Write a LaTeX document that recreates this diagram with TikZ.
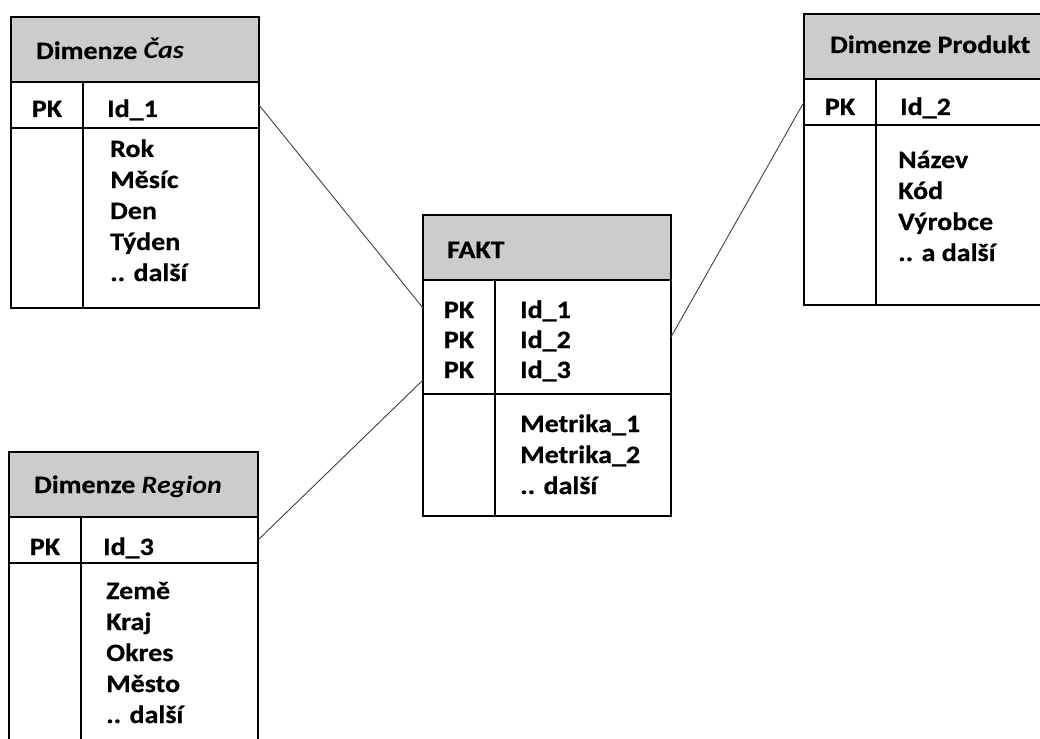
\documentclass[tikz,border=0pt]{standalone}
\usepackage{fontspec}
\setmainfont{Carlito}[FakeStretch=1.12, BoldFeatures={FakeBold=0.6}]
\usetikzlibrary{calc}

\begin{document}
\begin{tikzpicture}[
    x=1pt, y=-1pt,
    cell/.style={draw, line width=1.6pt, anchor=north west, inner sep=0pt, outer sep=0pt, minimum height=46pt},
    head/.style={cell, fill=black!20, minimum height=65pt},
    txt/.style={inner sep=0pt, font=\fontsize{25}{31}\selectfont\bfseries, anchor=base west},
    link/.style={line width=0.9pt, black!75}
]
\useasboundingbox (0,0) rectangle (1040,738);

% Dimenze Cas
\node (cas-head) [head, minimum width=248pt] at (11,17) {};
\node (cas-pkkey) [cell, minimum width=72pt] at (cas-head.south west) {};
\node (cas-pkcol) [cell, minimum width=176pt] at (cas-pkkey.north east) {};
\node (cas-bodykey) [cell, minimum width=72pt, minimum height=180pt] at (cas-pkkey.south west) {};
\node (cas-bodycol) [cell, minimum width=176pt, minimum height=180pt] at (cas-bodykey.north east) {};
\node (cas-title) [txt] at ($(cas-head.north west)+(25,42)$) {Dimenze \textit{Čas}};
\node (cas-pk) [txt, anchor=base] at ($(cas-pkkey.north)+(0,35)$) {PK};
\node (cas-id) [txt] at ($(cas-pkcol.north west)+(24,35)$) {Id\_1};
\foreach \f [count=\i] in {Rok, Měsíc, Den, Týden, {.. další}}
  \node (cas-f\i) [txt] at ($(cas-bodycol.north west)+(27,29+31*\i-31)$) {\f};

% Dimenze Produkt
\node (prod-head) [head, minimum width=250pt] at (804,14) {};
\node (prod-pkkey) [cell, minimum width=72pt] at (prod-head.south west) {};
\node (prod-pkcol) [cell, minimum width=178pt] at (prod-pkkey.north east) {};
\node (prod-bodykey) [cell, minimum width=72pt, minimum height=180pt] at (prod-pkkey.south west) {};
\node (prod-bodycol) [cell, minimum width=178pt, minimum height=180pt] at (prod-bodykey.north east) {};
\node (prod-title) [txt] at ($(prod-head.north west)+(26,39)$) {Dimenze Produkt};
\node (prod-pk) [txt, anchor=base] at ($(prod-pkkey.north)+(0,36)$) {PK};
\node (prod-id) [txt] at ($(prod-pkcol.north west)+(24,36)$) {Id\_2};
\foreach \f [count=\i] in {Název, Kód, Výrobce, {.. a další}}
  \node (prod-f\i) [txt] at ($(prod-bodycol.north west)+(22,43+31*\i-31)$) {\f};

% FAKT
\node (fakt-head) [head, minimum width=248pt] at (423,215) {};
\node (fakt-pkkey) [cell, minimum width=72pt, minimum height=114pt] at (fakt-head.south west) {};
\node (fakt-pkcol) [cell, minimum width=176pt, minimum height=114pt] at (fakt-pkkey.north east) {};
\node (fakt-bodykey) [cell, minimum width=72pt, minimum height=122pt] at (fakt-pkkey.south west) {};
\node (fakt-bodycol) [cell, minimum width=176pt, minimum height=122pt] at (fakt-bodykey.north east) {};
\node (fakt-title) [txt] at ($(fakt-head.north west)+(24,43)$) {FAKT};
\foreach \i in {1,2,3} {
  \node (fakt-pk\i) [txt, anchor=base] at ($(fakt-pkkey.north)+(0,38+30*\i-30)$) {PK};
  \node (fakt-id\i) [txt] at ($(fakt-pkcol.north west)+(25,38+30*\i-30)$) {Id\_\i};
}
\foreach \f [count=\i] in {Metrika\_1, Metrika\_2, {.. další}}
  \node (fakt-f\i) [txt] at ($(fakt-bodycol.north west)+(25,38+31*\i-31)$) {\f};

% Dimenze Region
\node (reg-head) [head, minimum width=249pt] at (9,452) {};
\node (reg-pkkey) [cell, minimum width=72pt] at (reg-head.south west) {};
\node (reg-pkcol) [cell, minimum width=177pt] at (reg-pkkey.north east) {};
\node (reg-bodykey) [cell, minimum width=72pt, minimum height=200pt] at (reg-pkkey.south west) {};
\node (reg-bodycol) [cell, minimum width=177pt, minimum height=200pt] at (reg-bodykey.north east) {};
\node (reg-title) [txt] at ($(reg-head.north west)+(25,41)$) {Dimenze \textit{Region}};
\node (reg-pk) [txt, anchor=base] at ($(reg-pkkey.north)+(0,38)$) {PK};
\node (reg-id) [txt] at ($(reg-pkcol.north west)+(22,38)$) {Id\_3};
\foreach \f [count=\i] in {Země, Kraj, Okres, Město, {.. další}}
  \node (reg-f\i) [txt] at ($(reg-bodycol.north west)+(25,36+31*\i-31)$) {\f};

% Connect tables
\draw [link] (cas-pkcol.east) -- ($(fakt-pkkey.north west)+(0,28)$);
\draw [link] (reg-pkcol.east) -- ($(fakt-pkkey.south west)+(0,-14)$);
\draw [link] (fakt-pkcol.east) -- (prod-pkkey.west);
\end{tikzpicture}
\end{document}
